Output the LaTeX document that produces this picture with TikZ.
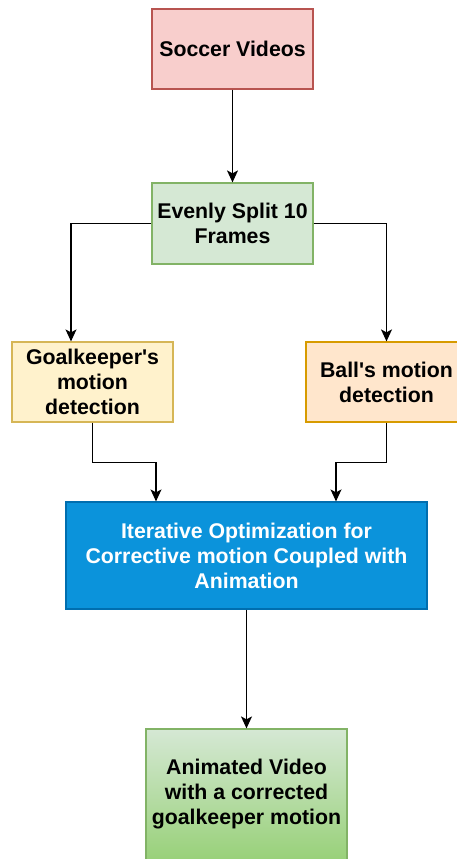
\documentclass[tikz,border=0pt]{standalone}
\usepackage{fontspec}
\setmainfont{Liberation Sans}
\usetikzlibrary{arrows.meta,positioning}
\definecolor{redF}{HTML}{F8CECC}\definecolor{redS}{HTML}{B85450}
\definecolor{grnF}{HTML}{D5E8D4}\definecolor{grnS}{HTML}{82B366}
\definecolor{grnB}{HTML}{97D077}
\definecolor{yelF}{HTML}{FFF2CC}\definecolor{yelS}{HTML}{D6B656}
\definecolor{orgF}{HTML}{FFE6CC}\definecolor{orgS}{HTML}{D79B00}
\definecolor{bluF}{HTML}{0B93DB}\definecolor{bluS}{HTML}{006EAF}
\tikzset{
  txtstyle/.style={align=center, inner sep=2pt, font=\fontsize{21.3}{25}\selectfont\bfseries},
  boxstyle/.style={rectangle, draw, line width=1.2pt, txtstyle},
  arr/.style={draw=black, line width=1.2pt, -{Stealth[length=12pt,width=11pt,inset=3pt]}}
}
\begin{document}
\begin{tikzpicture}[x=1pt,y=-1pt]
\useasboundingbox (0,0) rectangle (457,859);
\clip (0,0) rectangle (457,859);
\node[boxstyle, fill=redF, draw=redS, minimum width=161pt, minimum height=80pt] (soccer) at (232.5,49) {Soccer Videos};
\node[boxstyle, fill=grnF, draw=grnS, minimum width=161pt, minimum height=81pt] (split) at (232.5,223.5) {Evenly Split 10\\Frames};
\node[boxstyle, fill=yelF, draw=yelS, minimum width=161pt, minimum height=80pt] (gk) at (92.5,382) {Goalkeeper\textquotesingle s\\motion\\detection};
\node[boxstyle, fill=orgF, draw=orgS, minimum width=161pt, minimum height=80pt] (ball) at (386.5,382) {Ball\textquotesingle s motion\\detection};
\node[boxstyle, fill=bluF, draw=bluS, text=white, minimum width=361pt, minimum height=107pt] (iter) at (246.5,555.5) {Iterative Optimization for\\Corrective motion Coupled with\\Animation};
\node[boxstyle, draw=grnS, top color=grnF, bottom color=grnB, minimum width=201pt, minimum height=134pt] (anim) at (246.5,796) {};
\node[txtstyle] (animtxt) at (246.5,794) {Animated Video\\with a corrected\\goalkeeper motion};
\draw[arr] (soccer.south) -- (split.north);
\draw[arr] (split.west) -| ([xshift=-21.5pt]gk.north);
\draw[arr] (split.east) -| (ball.north);
\draw[arr] (gk.south) -- ++(0,40) -| ([xshift=-90.5pt]iter.north);
\draw[arr] (ball.south) -- ++(0,40) -| ([xshift=89.5pt]iter.north);
\draw[arr] (iter.south) -- (anim.north);
\end{tikzpicture}
\end{document}
